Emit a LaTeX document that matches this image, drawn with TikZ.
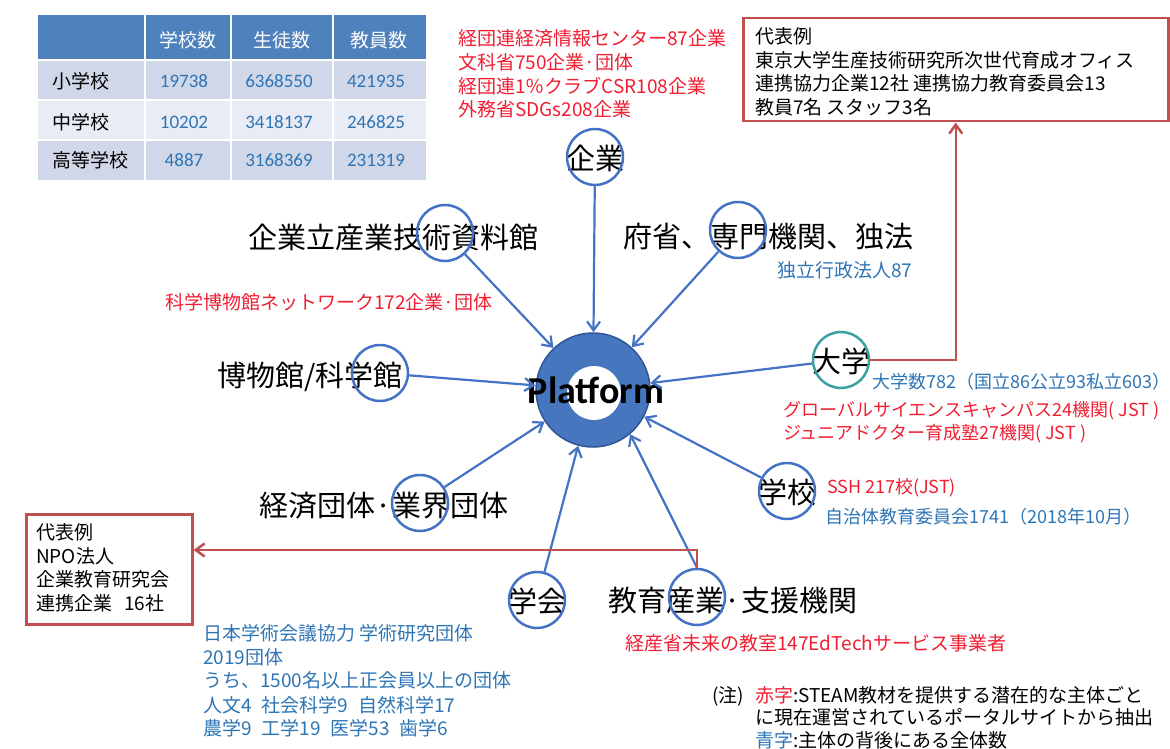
\documentclass[tikz,border=0pt]{standalone}
\usepackage{fontspec}
\setmainfont{Noto Sans CJK JP}
\newfontfamily\platfont{Carlito}
\usetikzlibrary{arrows.meta}
\definecolor{thead}{RGB}{79,129,189}
\definecolor{rowA}{RGB}{208,215,232}
\definecolor{rowB}{RGB}{233,236,244}
\definecolor{numblue}{RGB}{46,117,182}
\definecolor{txtred}{RGB}{240,30,50}
\definecolor{cblue}{RGB}{68,114,196}
\definecolor{pfill}{RGB}{70,118,190}
\definecolor{pdraw}{RGB}{47,85,151}
\definecolor{ringteal}{RGB}{60,160,160}
\definecolor{boxred}{RGB}{192,80,77}
\tikzset{
  txt/.style={inner sep=0pt, text height=16.7pt, text depth=2.3pt, font=\fontsize{19}{22}\selectfont},
  sm/.style={txt, anchor=west},
  smr/.style={sm, text=txtred},
  smb/.style={sm, text=numblue},
  sm18/.style={font=\fontsize{18}{22}\selectfont, text height=15.8pt, text depth=2.2pt},
  tnum/.style={txt, text=numblue, font=\platfont\fontsize{19}{22}\selectfont, text height=13pt, text depth=0pt},
  big/.style={inner sep=0pt, text height=25.5pt, text depth=3.5pt, font=\fontsize{29}{32}\selectfont},
  ring/.style={circle, draw=cblue, line width=2.5pt, minimum size=56pt, inner sep=0pt},
  conn/.style={draw=cblue, line width=2.2pt, -{Straight Barb[length=9pt,width=13pt]}},
  rline/.style={draw=boxred, line width=2.5pt, -{Straight Barb[length=9pt,width=13pt]}},
  rbox/.style={draw=boxred, line width=2.5pt, inner sep=0pt}
}
\begin{document}
\begin{tikzpicture}[x=1pt,y=-1pt]
\useasboundingbox (0,0) rectangle (1170,749);
% ---------- table ----------
\fill[thead] (38,15) rectangle (426,60);
\fill[rowA] (38,60) rectangle (426,100);
\fill[rowB] (38,100) rectangle (426,140);
\fill[rowA] (38,140) rectangle (426,180);
\foreach \yy in {60,100,140} \draw[white, line width=2pt] (38,\yy) -- (426,\yy);
\foreach \xx in {145,231,333} \draw[white, line width=2pt] (\xx,15) -- (\xx,180);
\node[txt, text=white] (h1) at (188,40) {学校数};
\node[txt, text=white] (h2) at (282,40) {生徒数};
\node[txt, text=white] (h3) at (379,40) {教員数};
\node[sm] (r1) at (52,81) {小学校};
\node[sm] (r2) at (52,122) {中学校};
\node[sm] (r3) at (52,160) {高等学校};
\node[tnum] (v11) at (184,81) {19738};
\node[tnum] (v12) at (279,81) {6368550};
\node[tnum] (v13) at (376,81) {421935};
\node[tnum] (v21) at (184,122) {10202};
\node[tnum] (v22) at (279,122) {3418137};
\node[tnum] (v23) at (376,122) {246825};
\node[tnum] (v31) at (184,160) {4887};
\node[tnum] (v32) at (279,160) {3168369};
\node[tnum] (v33) at (376,160) {231319};
% ---------- top red text ----------
\node[smr] (k1) at (458,38) {経団連経済情報センター87企業};
\node[smr] (k2) at (458,62) {文科省750企業·団体};
\node[smr] (k3) at (458,86) {経団連1％クラブCSR108企業};
\node[smr] (k4) at (458,109) {外務省SDGs208企業};
% ---------- top right box ----------
\node[rbox, minimum width=425pt, minimum height=103pt, anchor=north west] (boxTR) at (742,17) {};
\node[sm] (b1) at (755,36) {代表例};
\node[sm] (b2) at (755,60) {東京大学生産技術研究所次世代育成オフィス};
\node[sm] (b3) at (755,83) {連携協力企業12社 連携協力教育委員会13};
\node[sm] (b4) at (755,107) {教員7名 スタッフ3名};
% ---------- left box ----------
\node[rbox, minimum width=166pt, minimum height=110pt, anchor=north west] (boxL) at (25,513) {};
\node[sm] (l1) at (36,532) {代表例};
\node[sm] (l2) at (36,556) {NPO法人};
\node[sm] (l3) at (36,579) {企業教育研究会};
\node[sm] (l4) at (36,603) {連携企業\hspace{12pt}16社};
% ---------- platform ----------
\node[circle, fill=pfill, draw=pdraw, line width=1.5pt, minimum size=114pt, inner sep=0pt] (plat) at (593,390) {};
\node[circle, fill=white, minimum size=54pt, inner sep=0pt] (platin) at (594,393) {};
\node[inner sep=0pt, font=\platfont\bfseries\fontsize{38}{40}\selectfont] (plattxt) at (596,390) {Platform};
% ---------- big labels ----------
\node[big] (tShiryo) at (393,237) {企業立産業技術資料館};
\node[big] (tFusho) at (768,236) {府省、専門機関、独法};
\node[big] (tHaku) at (310,375) {博物館/科学館};
\node[big] (tKeizai) at (384,505) {経済団体·業界団体};
\node[big] (tKyo) at (733,600) {教育産業·支援機関};
\node[big] (tKig) at (595,158) {企業};
\node[big] (tDai) at (841,361) {大学};
\node[big] (tGakko) at (787,492) {学校};
\node[big] (tGakkai) at (537,601) {学会};
% ---------- rings ----------
\node[ring] (cKig) at (595,157) {};
\node[ring] (cShiryo) at (445,233) {};
\node[ring] (cFusho) at (738,230) {};
\node[ring] (cHaku) at (380,373) {};
\node[ring, draw=ringteal] (cDai) at (841,360) {};
\node[ring] (cGakko) at (787,491) {};
\node[ring] (cKeizai) at (420,503) {};
\node[ring] (cGakkai) at (537,600) {};
\node[ring] (cKyo) at (697,597) {};
% ---------- blue connectors ----------
\draw[conn] (cKig) -- (plat);
\draw[conn] (cShiryo) -- (plat);
\draw[conn] (cFusho) -- (plat);
\draw[conn] (cHaku) -- (plat);
\draw[conn] (cDai) -- (plat);
\draw[conn] (cGakko) -- (plat);
\draw[conn] (cKeizai) -- (plat);
\draw[conn] (cGakkai) -- (plat);
\draw[conn] (cKyo.north) -- (plat.-50);
% ---------- red connectors ----------
\draw[rline] (cDai.east) -| (boxTR.south);
\coordinate (bendK) at (697,550);
\draw[rline] (cKyo.north) -- (bendK) -- (boxL.east |- bendK);
% ---------- annotations ----------
\node[smb] (aDok) at (777,270) {独立行政法人87};
\node[smr] (aHaku) at (165,302) {科学博物館ネットワーク172企業·団体};
\node[smb, sm18] (aDai1) at (872,382) {大学数782（国立86公立93私立603）};
\node[smr, sm18] (aDai2) at (783,410) {グローバルサイエンスキャンパス24機関( JST )};
\node[smr, sm18] (aDai3) at (783,433) {ジュニアドクター育成塾27機関( JST )};
\node[smr, sm18] (aSSH) at (827,487) {SSH 217校(JST)};
\node[smb, sm18] (aJichi) at (825,517) {自治体教育委員会1741（2018年10月）};
\node[smr] (aKeisan) at (625,643) {経産省未来の教室147EdTechサービス事業者};
\node[smb] (g1) at (203,633) {日本学術会議協力 学術研究団体};
\node[smb] (g2) at (203,657) {2019団体};
\node[smb] (g3) at (203,680) {うち、1500名以上正会員以上の団体};
\node[smb] (g4) at (203,705) {人文4\hspace{10pt}社会科学9\hspace{10pt}自然科学17};
\node[smb] (g5) at (203,728) {農学9\hspace{10pt}工学19\hspace{10pt}医学53\hspace{10pt}歯学6};
% ---------- note ----------
\node[sm] (nA) at (712,695) {(注)};
\node[sm] (nB) at (755,695) {\textcolor{txtred}{赤字}:STEAM教材を提供する潜在的な主体ごと};
\node[sm] (nC) at (755,717) {に現在運営されているポータルサイトから抽出};
\node[sm] (nD) at (755,740) {\textcolor{numblue}{青字}:主体の背後にある全体数};
\end{tikzpicture}
\end{document}
